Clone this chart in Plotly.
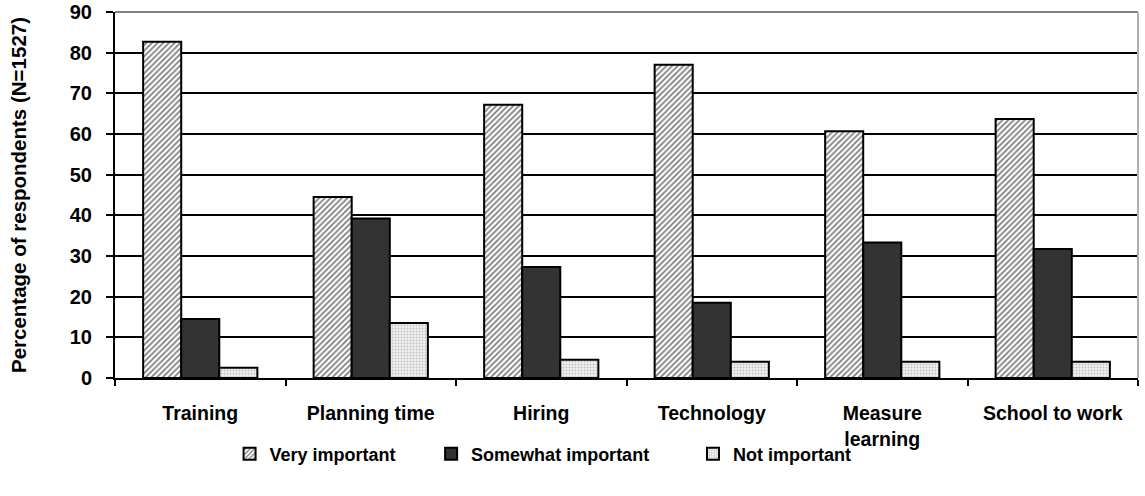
import plotly.graph_objects as go

# Datos
categorias = ["Training", "Planning time", "Hiring", "Technology",
              "Measure<br>learning", "School to work"]
muy_importante = [82.7, 44.5, 67.2, 77.0, 60.7, 63.7]
algo_importante = [14.5, 39.2, 27.3, 18.5, 33.3, 31.7]
no_importante = [2.5, 13.5, 4.5, 4.0, 4.0, 4.0]
y_ticks = [0, 10, 20, 30, 40, 50, 60, 70, 80, 90]

FONT = "Arial, Liberation Sans, sans-serif"

fig = go.Figure()
fig.add_trace(go.Bar(
    x=categorias, y=muy_importante, name="Very important", legend="legend",
    marker=dict(color="white", line=dict(color="black", width=2),
                pattern=dict(shape="/", fgcolor="black", bgcolor="white",
                             size=4, solidity=0.45))
))
fig.add_trace(go.Bar(
    x=categorias, y=algo_importante, name="Somewhat important", legend="legend2",
    marker=dict(color="#333333", line=dict(color="black", width=2))
))
fig.add_trace(go.Bar(
    x=categorias, y=no_importante, name="Not important", legend="legend3",
    marker=dict(color="#eeeeee", line=dict(color="black", width=2),
                pattern=dict(shape=".", fgcolor="#888888", bgcolor="#f2f2f2",
                             size=3, solidity=0.3))
))

# una leyenda por serie para imitar el espaciado del original
leyenda = dict(orientation="h", xanchor="left", y=-0.208, yanchor="middle",
               font=dict(size=18, weight="bold"), itemwidth=30,
               bgcolor="rgba(0,0,0,0)")

fig.update_layout(
    width=1145, height=496,
    barmode="group", bargap=0.33, bargroupgap=0,
    plot_bgcolor="white", paper_bgcolor="white",
    font=dict(family=FONT, size=20, color="black", weight="bold"),
    margin=dict(l=115, r=7, t=12, b=118),
    showlegend=True,
    legend=dict(leyenda, x=0.112),
    legend2=dict(leyenda, x=0.309),
    legend3=dict(leyenda, x=0.565),
    xaxis=dict(showline=True, linecolor="black", linewidth=2, automargin=False,
               ticks="outside", tickson="boundaries", ticklen=6,
               tickcolor="black", tickwidth=2, showgrid=False,
               ticklabelstandoff=17,
               tickfont=dict(size=19.5, weight="bold")),
    yaxis=dict(range=[0, 90], tickvals=y_ticks, showline=True, linecolor="black",
               linewidth=2, ticks="outside", ticklen=7, tickcolor="black",
               tickwidth=2, showgrid=True, gridcolor="black", gridwidth=2,
               zeroline=False, automargin=False, ticklabelstandoff=10,
               tickfont=dict(size=20, weight="bold"),
               title=dict(text="Percentage of respondents (N=1527)",
                          font=dict(size=20.5, weight="bold"), standoff=38)),
)

# borde gris superior y derecho del area del grafico
fig.add_shape(type="line", xref="paper", yref="paper", x0=0, x1=1, y0=1, y1=1,
              line=dict(color="#808080", width=2), layer="above")
fig.add_shape(type="line", xref="paper", yref="paper", x0=1, x1=1, y0=0, y1=1,
              line=dict(color="#b0b0b0", width=2), layer="above")

# quitar el margen por defecto del body para que la figura empiece en (0,0)
fig.write_html("out.html", config={"displayModeBar": False},
               post_script="document.body.style.margin='0';")
